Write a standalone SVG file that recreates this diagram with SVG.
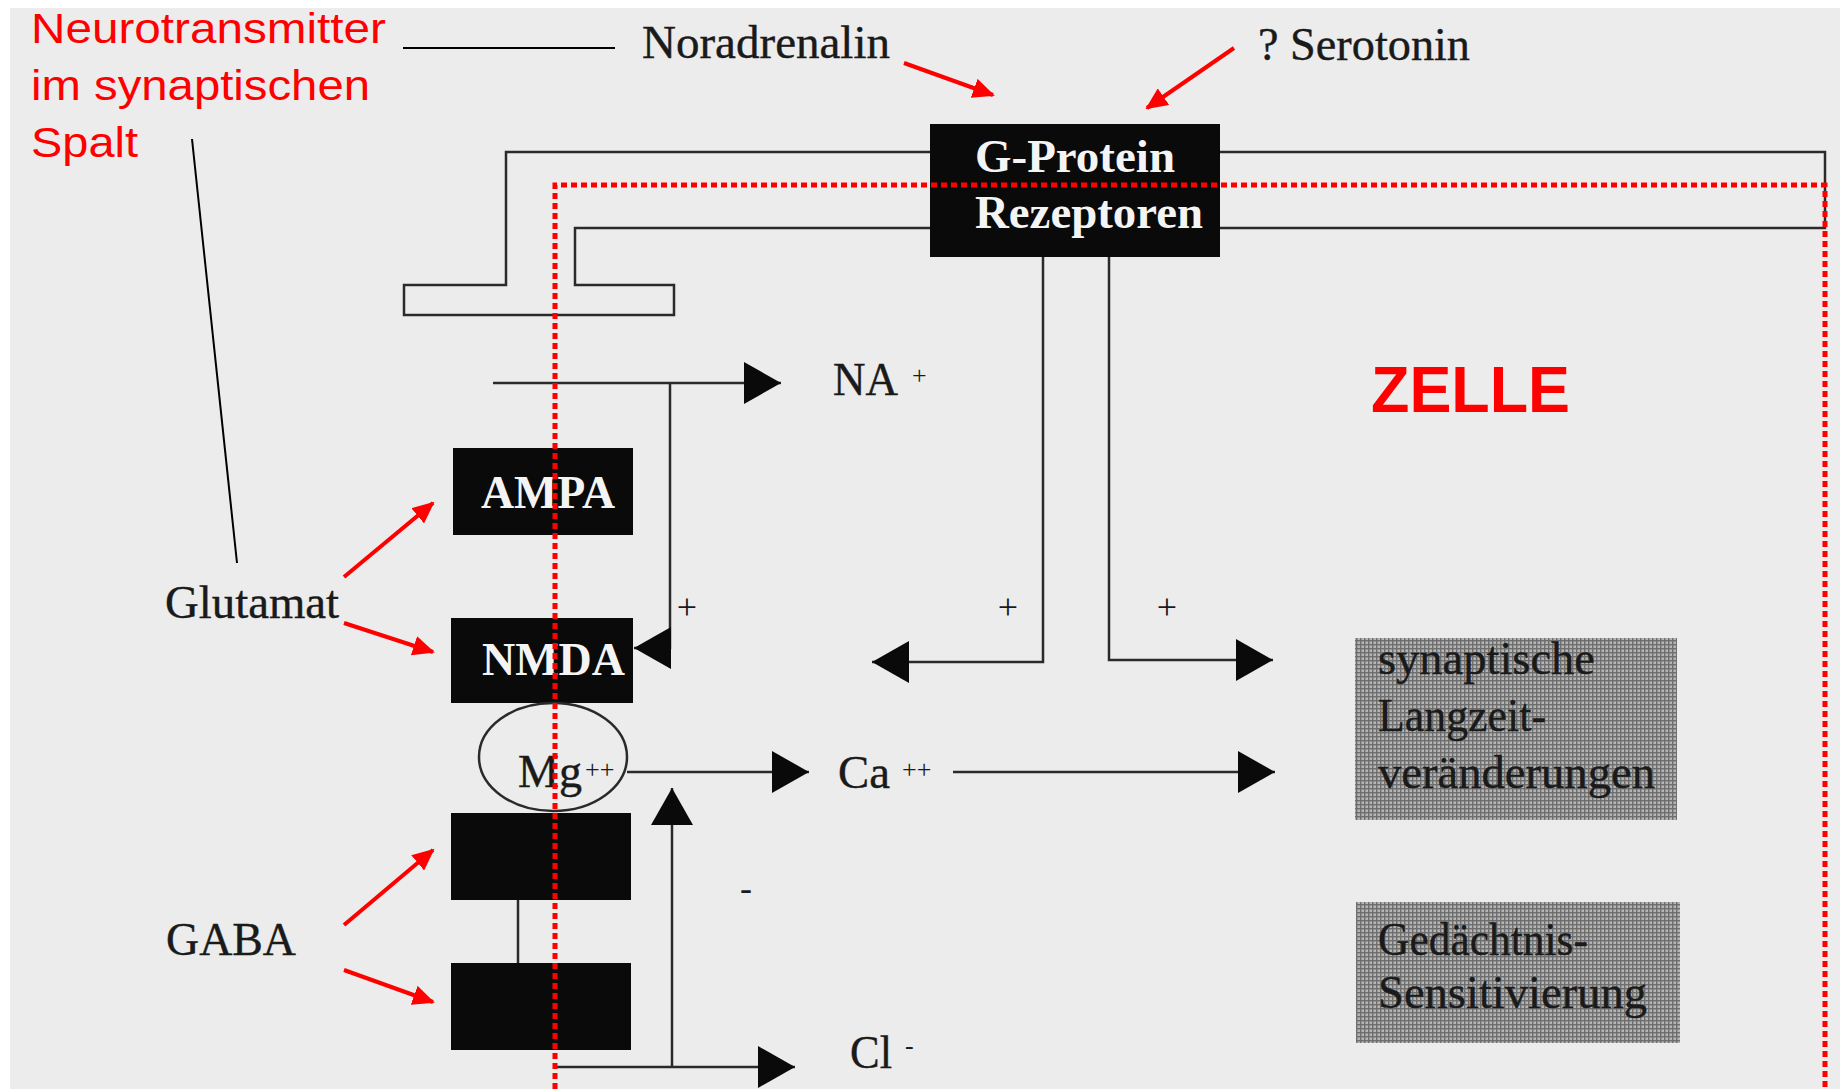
<svg xmlns="http://www.w3.org/2000/svg" width="1840" height="1089" viewBox="0 0 1840 1089">
  <defs>
    <style>
      .ln { fill: none; stroke: #2a2a2a; stroke-width: 2.5; }
      .thin { fill: none; stroke: #000; stroke-width: 2; }
      .red { fill: none; stroke: #f00; stroke-width: 4; }
      .box { fill: #0a0a0a; }
      .lbl { font-family: "Liberation Serif", "Times New Roman", serif; font-size: 47px; fill: #1a1a1a; stroke: #1a1a1a; stroke-width: 0.4; }
      .wlbl { font-family: "Liberation Serif", "Times New Roman", serif; font-size: 47px; font-weight: bold; fill: #f4f4f4; }
      .sup { font-family: "Liberation Serif", "Times New Roman", serif; font-size: 26px; fill: #1a1a1a; }
      .pm { font-family: "Liberation Serif", "Times New Roman", serif; font-size: 36px; fill: #1a1a1a; text-anchor: middle; }
      .rtxt { font-family: "Liberation Sans", Arial, sans-serif; font-size: 43px; fill: #f00; }
      .stip { fill: url(#halftone); }
    </style>
    <pattern id="halftone" width="4" height="4" patternUnits="userSpaceOnUse">
      <rect width="4" height="4" fill="#b4b4b4"/>
      <rect width="4" height="1.4" fill="#6e6e6e"/>
      <rect width="1.4" height="4" fill="#6e6e6e"/>
    </pattern>
    <marker id="ah" markerUnits="userSpaceOnUse" markerWidth="37" markerHeight="42" refX="37" refY="21" orient="auto">
      <path d="M0,0 L37,21 L0,42 z" fill="#0a0a0a"/>
    </marker>
    <marker id="rh" markerUnits="userSpaceOnUse" markerWidth="22" markerHeight="20" refX="20" refY="10" orient="auto">
      <path d="M0,0 L22,10 L0,20 z" fill="#f00"/>
    </marker>
  </defs>

  <rect width="1840" height="1089" fill="#ffffff"/>
  <rect x="10" y="8" width="1830" height="1081" fill="#ececec"/>

  <g id="membrane">
    <path class="ln" d="M930,152 H506 V285 H404 V315 H674 V285 H575 V228 H930"/>
    <path class="ln" d="M1220,152 H1825 V228 H1220"/>
  </g>

  <g id="connectors">
    <path class="ln" d="M493,383 H781" marker-end="url(#ah)"/>
    <path class="ln" d="M670,383 V648 H634" marker-end="url(#ah)"/>
    <path class="ln" d="M1043,257 V662 H872" marker-end="url(#ah)"/>
    <path class="ln" d="M1109,257 V660 H1273" marker-end="url(#ah)"/>
    <path class="ln" d="M627,772 H809" marker-end="url(#ah)"/>
    <path class="ln" d="M953,772 H1275" marker-end="url(#ah)"/>
    <path class="ln" d="M554,1067 H795" marker-end="url(#ah)"/>
    <path class="ln" d="M672,1067 V788" marker-end="url(#ah)"/>
    <path class="ln" d="M518,900 V963"/>
  </g>

  <g id="gprotein">
    <rect class="box" x="930" y="124" width="290" height="133"/>
    <text class="wlbl" x="975" y="172" textLength="200" lengthAdjust="spacingAndGlyphs">G-Protein</text>
    <text class="wlbl" x="975" y="228" textLength="228" lengthAdjust="spacingAndGlyphs">Rezeptoren</text>
  </g>

  <g id="ampa">
    <rect class="box" x="453" y="448" width="180" height="87"/>
    <text class="wlbl" x="481" y="508" textLength="134" lengthAdjust="spacingAndGlyphs">AMPA</text>
  </g>

  <g id="nmda">
    <rect class="box" x="451" y="618" width="182" height="85"/>
    <text class="wlbl" x="482" y="675" textLength="143" lengthAdjust="spacingAndGlyphs">NMDA</text>
  </g>

  <g id="mg">
    <ellipse cx="553" cy="757" rx="74" ry="54" fill="none" stroke="#2a2a2a" stroke-width="2.5"/>
    <text class="lbl" x="518" y="787" textLength="64" lengthAdjust="spacingAndGlyphs">Mg</text>
    <text class="sup" x="585" y="778">++</text>
  </g>

  <g id="gaba1">
    <rect class="box" x="451" y="813" width="180" height="87"/>
  </g>
  <g id="gaba2">
    <rect class="box" x="451" y="963" width="180" height="87"/>
  </g>

  <g id="na">
    <text class="lbl" x="833" y="395" textLength="65" lengthAdjust="spacingAndGlyphs">NA</text>
    <text class="sup" x="912" y="384">+</text>
  </g>
  <g id="ca">
    <text class="lbl" x="838" y="788" textLength="52" lengthAdjust="spacingAndGlyphs">Ca</text>
    <text class="sup" x="902" y="778">++</text>
  </g>
  <g id="cl">
    <text class="lbl" x="850" y="1068" textLength="42" lengthAdjust="spacingAndGlyphs">Cl</text>
    <text class="sup" x="905" y="1054">-</text>
  </g>

  <g id="signs">
    <text class="pm" x="687" y="619">+</text>
    <text class="pm" x="1008" y="619">+</text>
    <text class="pm" x="1167" y="619">+</text>
    <text class="pm" x="746" y="900">-</text>
  </g>

  <g id="ltp">
    <rect class="stip" x="1355" y="638" width="322" height="182"/>
    <text class="lbl" x="1378" y="674" textLength="217" lengthAdjust="spacingAndGlyphs">synaptische</text>
    <text class="lbl" x="1378" y="731" textLength="168" lengthAdjust="spacingAndGlyphs">Langzeit-</text>
    <text class="lbl" x="1378" y="788" textLength="277" lengthAdjust="spacingAndGlyphs">veränderungen</text>
  </g>

  <g id="sens">
    <rect class="stip" x="1356" y="902" width="324" height="141"/>
    <text class="lbl" x="1378" y="955" textLength="210" lengthAdjust="spacingAndGlyphs">Gedächtnis-</text>
    <text class="lbl" x="1378" y="1008" textLength="269" lengthAdjust="spacingAndGlyphs">Sensitivierung</text>
  </g>

  <g id="transmitters">
    <text class="lbl" x="642" y="58" textLength="248" lengthAdjust="spacingAndGlyphs">Noradrenalin</text>
    <text class="lbl" x="1258" y="60" textLength="212" lengthAdjust="spacingAndGlyphs">? Serotonin</text>
    <text class="lbl" x="165" y="618" textLength="174" lengthAdjust="spacingAndGlyphs">Glutamat</text>
    <text class="lbl" x="166" y="955" textLength="130" lengthAdjust="spacingAndGlyphs">GABA</text>
  </g>

  <g id="neurotransmitter-label">
    <text class="rtxt" x="31" y="43" textLength="355" lengthAdjust="spacingAndGlyphs">Neurotransmitter</text>
    <text class="rtxt" x="31" y="100" textLength="339" lengthAdjust="spacingAndGlyphs">im synaptischen</text>
    <text class="rtxt" x="31" y="157" textLength="107" lengthAdjust="spacingAndGlyphs">Spalt</text>
    <path class="thin" d="M403,48 H615"/>
    <path class="thin" d="M192,139 L237,563"/>
  </g>

  <g id="red-arrows">
    <path class="red" d="M904,63 L993,95" marker-end="url(#rh)"/>
    <path class="red" d="M1234,48 L1147,108" marker-end="url(#rh)"/>
    <path class="red" d="M344,577 L433,503" marker-end="url(#rh)"/>
    <path class="red" d="M344,623 L433,652" marker-end="url(#rh)"/>
    <path class="red" d="M344,925 L433,850" marker-end="url(#rh)"/>
    <path class="red" d="M344,970 L433,1002" marker-end="url(#rh)"/>
  </g>

  <g id="zelle">
    <path d="M555,1089 V185 H1825 V1089" fill="none" stroke="#f00" stroke-width="5" stroke-dasharray="6 4"/>
    <text x="1371" y="412" font-family="Liberation Sans, Arial, sans-serif" font-size="64" font-weight="bold" fill="#f00" textLength="199" lengthAdjust="spacingAndGlyphs">ZELLE</text>
  </g>
</svg>
